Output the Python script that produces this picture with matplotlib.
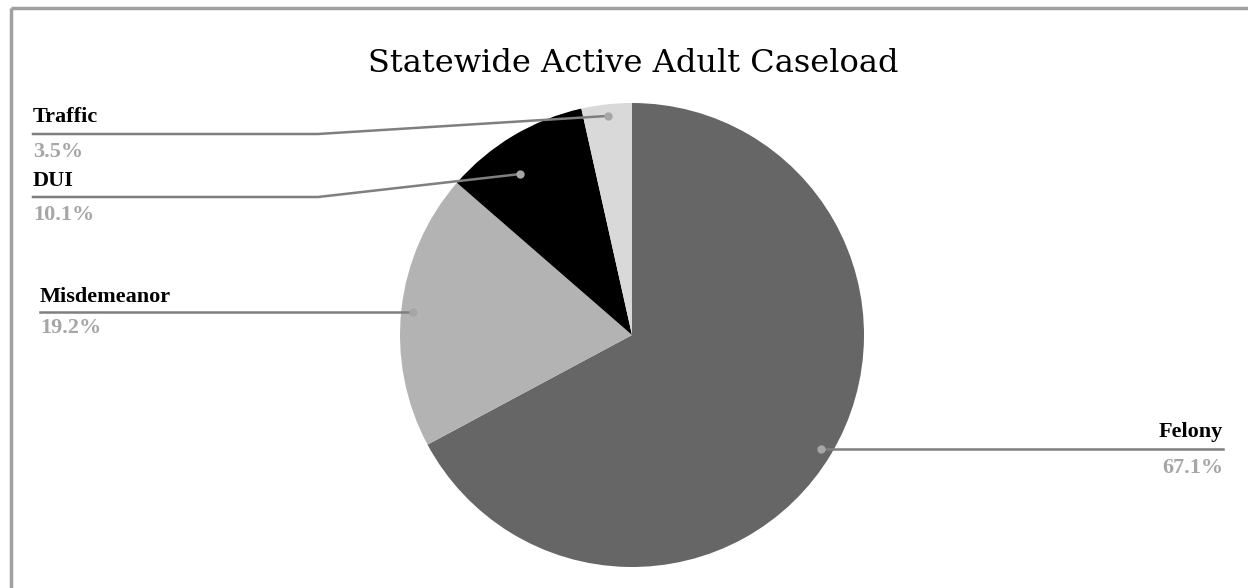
import numpy as np
import matplotlib.pyplot as plt

# data
categories = ['Felony', 'Misdemeanor', 'DUI', 'Traffic']
shares = [67.1, 19.2, 10.1, 3.5]
colors = ['#666666', '#b3b3b3', '#000000', '#d9d9d9']
title = 'Statewide Active Adult Caseload'

W, H = 1248, 588
fig = plt.figure(figsize=(W / 100, H / 100), dpi=100)
ax = fig.add_axes([0, 0, 1, 1])

# pie (pixel coords, y up)
cx, cy, rad = 632, H - 335, 232
wedges, _ = ax.pie(shares, colors=colors, startangle=90, counterclock=False,
                   center=(cx, cy), radius=rad, frame=True,
                   wedgeprops=dict(linewidth=0))
ax.set_xlim(0, W)
ax.set_ylim(0, H)
ax.set_aspect('equal')
ax.axis('off')

# frame (only top and left visible)
ax.plot([11, W], [H - 8, H - 8], color='#a0a0a0', lw=2.5, solid_capstyle='butt')
ax.plot([11, 11], [0, H - 8], color='#a0a0a0', lw=2.5, solid_capstyle='butt')

ax.text(633, H - 64, title, ha='center', va='center', fontsize=23,
        family='DejaVu Serif', color='#000000')

# label layout: (text x, name y, line y, pct y, align, knee x, dot radius frac, angle shift)
layout = {
    'Felony':      (1223, 432, 449, 468, 'right', None, 0.95, 0),
    'Misdemeanor': (40, 297, 312, 328, 'left', None, 0.95, 0),
    'DUI':         (33, 181, 197, 215, 'left', 318, 0.845, 4),
    'Traffic':     (33, 117, 134, 152, 'left', 318, 0.95, 0),
}

line_col = '#7f7f7f'
for w, name, pct in zip(wedges, categories, shares):
    tx, ny, ly, py, align, knee, frac, shift = layout[name]
    mid = np.deg2rad((w.theta1 + w.theta2) / 2 + shift)
    dx = cx + frac * rad * np.cos(mid)
    dy = cy + frac * rad * np.sin(mid)
    if knee is None:
        ax.plot([tx, dx], [H - ly, H - ly], color=line_col, lw=1.8)
        dy = H - ly
    else:
        ax.plot([tx, knee, dx], [H - ly, H - ly, dy], color=line_col, lw=1.8)
    ax.plot(dx, dy, 'o', color='#a6a6a6', ms=6, mec='none')
    ax.text(tx, H - ny, name, ha=align, va='center', fontsize=16,
            fontweight='bold', family='Liberation Serif', color='#000000')
    ax.text(tx, H - py, f'{pct:.1f}%', ha=align, va='center', fontsize=16,
            fontweight='bold', family='Liberation Serif', color='#a6a6a6')

fig.savefig('out.png', dpi=100)
